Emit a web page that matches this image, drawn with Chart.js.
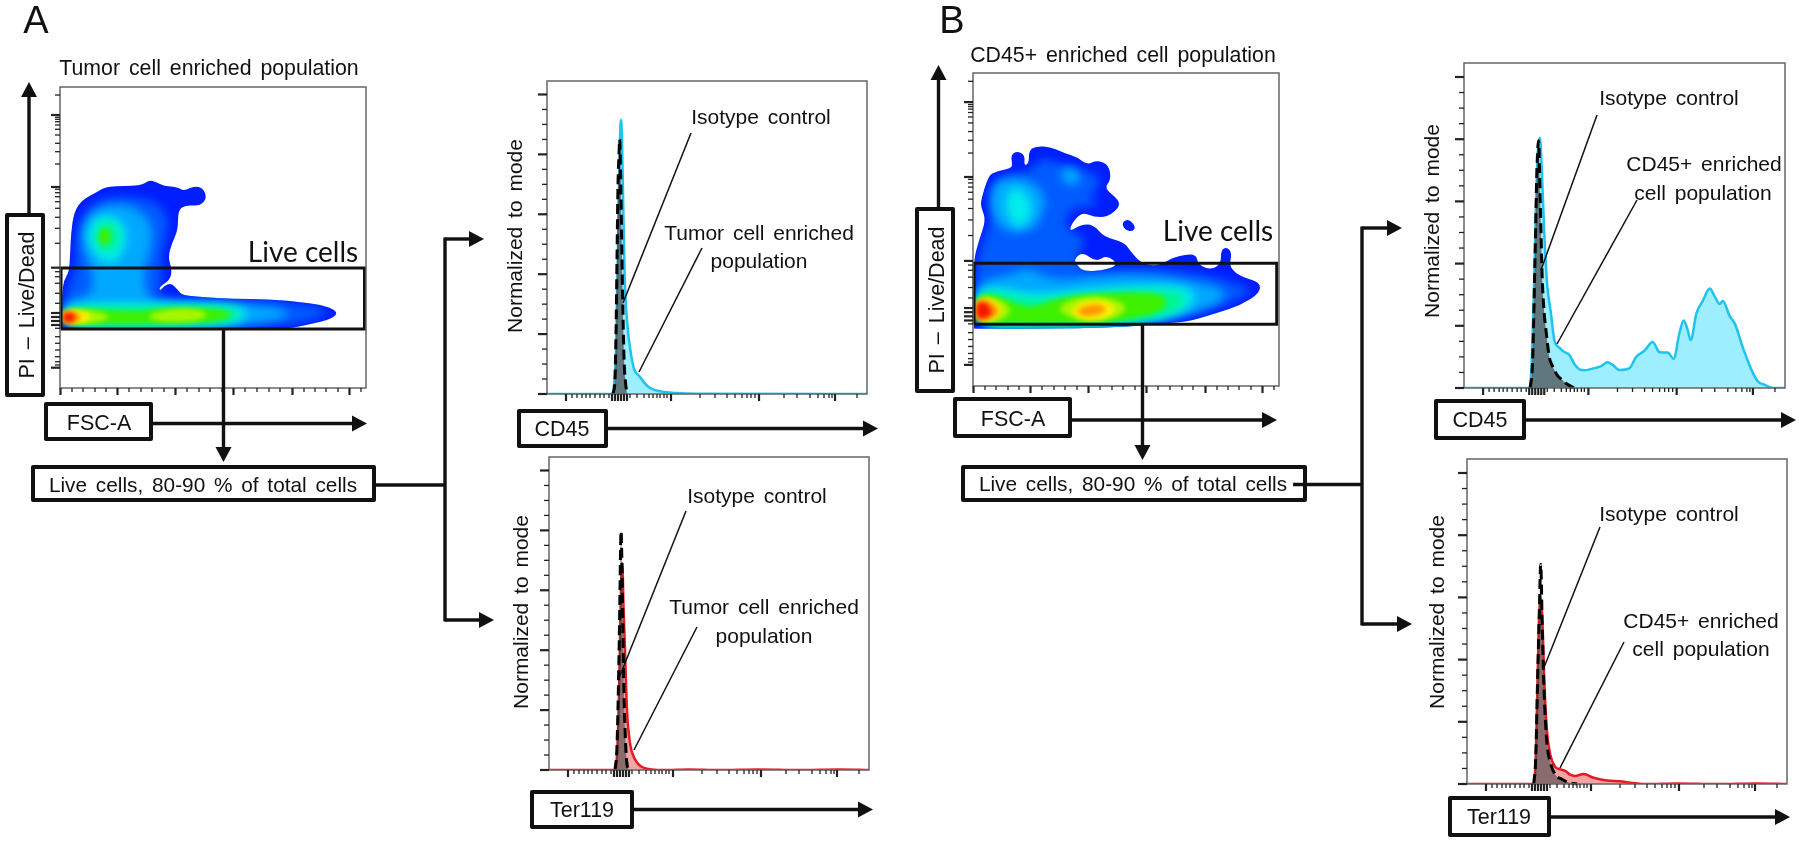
<!DOCTYPE html>
<html>
<head>
<meta charset="utf-8">
<title>Flow cytometry gating</title>
<script src="https://cdn.jsdelivr.net/npm/chart.js@4"></script>
<style>
  html, body { margin: 0; background: #fff; }
  #page { position: relative; width: 1800px; height: 843px; overflow: hidden; font-family: "Liberation Sans", Arial, sans-serif; color: #111; }
  canvas { position: absolute; }
  svg { position: absolute; left: 0; top: 0; z-index: 3; }
  .box { position: absolute; box-sizing: border-box; border: 4px solid #111; border-radius: 2px; background: #fff; z-index: 2; }
  .lbl { position: absolute; white-space: pre; transform-origin: center; z-index: 4; word-spacing: 3px; }
</style>
</head>
<body>
<div id="page"></div>
<script>
// density contours, FSC-A channel / PI channel, one list per colour level
const tumorLevel0 = [[[2,60],[2,95],[4,108],[9,116],[10,131],[11,155],[14,176],[22,188],[37,196],[47,202],[81,202],[89,208],[96,206],[104,202],[117,201],[124,197],[134,202],[143,200],[147,190],[140,182],[126,183],[118,178],[118,158],[112,145],[108,131],[112,118],[110,108],[99,101],[100,97],[104,102],[111,105],[118,98],[122,93],[141,91],[174,89],[207,89],[241,86],[267,82],[279,75],[269,68],[241,62],[226,59],[94,58],[2,58]]];
const tumorLevel1 = [[[4,61],[4,91],[16,116],[16,148],[21,171],[41,191],[81,191],[104,181],[109,161],[101,138],[102,108],[97,93],[111,88],[207,86],[257,82],[269,75],[257,69],[224,63],[107,60]]];
const tumorLevel2 = [[[4,61],[4,87],[34,93],[31,121],[20,148],[27,173],[47,184],[76,182],[94,161],[90,135],[84,121],[86,91],[101,85],[207,83],[229,77],[226,69],[174,62],[74,59]]];
const tumorLevel3 = [[[26,151],[34,172],[56,173],[69,155],[61,129],[49,123],[35,131]], [[3,61],[3,84],[74,85],[174,84],[192,75],[174,63],[74,60]]];
const tumorLevel4 = [[[34,151],[40,166],[53,166],[61,153],[53,136],[41,136]], [[3,63],[3,81],[91,81],[173,81],[181,73],[169,65],[81,62]]];
const tumorLevel5 = [[[38,153],[44,162],[52,155],[48,143],[41,143]], [[3,64],[3,79],[51,78],[77,76],[101,80],[157,80],[175,73],[157,66],[84,64],[51,64]]];
const tumorLevel6 = [[[3,65],[3,79],[33,78],[54,71],[33,64]], [[85,73],[114,80],[143,78],[149,72],[133,66],[97,66]]];
const tumorLevel7 = [[[3,64],[3,78],[23,77],[33,71],[23,65]]];
const tumorLevel8 = [[[3,65],[3,77],[16,76],[23,71],[15,65]]];
const tumorLevel9 = [[[3,66],[3,76],[13,75],[16,71],[12,65]]];

const cd45Level0 = [
  [[1,58],[0,123],[6,146],[13,166],[8,179],[8,186],[15,209],[21,214],[39,218],[39,223],[38,231],[44,235],[52,231],[51,220],[56,223],[56,236],[64,240],[78,239],[91,233],[104,229],[114,221],[124,226],[136,221],[138,206],[131,198],[146,186],[146,178],[134,169],[121,169],[109,174],[99,163],[96,154],[109,162],[121,161],[131,149],[151,144],[158,134],[168,123],[181,120],[191,123],[201,129],[223,133],[225,121],[239,116],[248,123],[248,136],[254,139],[259,133],[256,119],[268,109],[287,104],[287,93],[268,81],[244,73],[214,64],[191,63],[144,58],[1,57]],
  [[149,164],[156,167],[163,159],[159,154],[151,157]]
];
const cd45Level1 = [[[3,61],[3,123],[13,153],[21,173],[19,199],[28,209],[61,216],[68,229],[84,223],[104,216],[124,213],[128,201],[114,189],[128,183],[114,178],[98,179],[91,159],[104,153],[114,146],[101,126],[114,113],[161,119],[228,113],[274,99],[278,93],[244,78],[191,66],[61,59]]];
const cd45Level2 = [[[16,189],[24,208],[56,208],[74,189],[68,169],[61,156],[34,153],[19,169]], [[88,219],[104,218],[109,206],[98,199],[88,206]], [[3,60],[3,105],[38,111],[54,119],[81,105],[128,111],[178,111],[214,105],[248,99],[254,86],[214,71],[161,62],[61,60]]];
const cd45Level3 = [[[31,179],[36,198],[51,198],[61,176],[51,159],[41,159]], [[3,60],[3,96],[28,99],[61,91],[114,97],[181,102],[220,99],[223,81],[191,67],[128,60],[61,60]]];
const cd45Level4 = [[[3,61],[3,92],[24,94],[61,84],[101,92],[181,96],[210,93],[213,81],[186,69],[128,61],[61,60]]];
const cd45Level5 = [[[3,62],[3,91],[24,91],[44,81],[61,78],[81,87],[114,92],[181,94],[196,86],[186,72],[128,63],[61,63]]];
const cd45Level6 = [[[3,63],[3,89],[23,89],[41,76],[26,64]], [[82,76],[98,87],[128,91],[156,81],[146,68],[108,64]]];
const cd45Level7 = [[[3,65],[3,87],[20,87],[31,76],[20,65]], [[96,76],[114,86],[134,85],[145,76],[130,66],[108,66]]];
const cd45Level8 = [[[3,66],[3,86],[17,86],[28,75],[18,66]], [[102,76],[118,82],[130,81],[134,76],[123,70],[109,70]]];
const cd45Level9 = [[[3,67],[3,84],[13,84],[20,74],[13,67]]];
const cd45Holes = [[[101,127],[110,134],[123,124],[134,131],[146,121],[128,115],[110,115],[104,121]]];

const levelColors = ['#001eff', '#005cff', '#00a8ff', '#00ecec', '#00f58a', '#3cf000', '#aaf500', '#fff000', '#ff9600', '#f81400'];

// live cell gates, same channels
const tumorGate = [[1,59],[304.5,59],[304.5,120],[1,120],[1,59]];
const cd45Gate = [[1,61.7],[303.7,61.7],[303.7,122.7],[1,122.7],[1,61.7]];

// histogram curves, x = display channel, y = % of mode
const cd45TumorX = [0,65,67,69,71,73,74,75,76,77.7,80.7,84,87,92,97,103,113,130,150,320];
const cd45TumorY = [0,0,3,15,50,85,91.6,85,67,39,22,13.4,8.4,6.1,3.9,2,0.9,0.3,0.1,0];
const cd45IsoAX = [66,68,69,70,71,72,72.7,73.5,74.5,75.5,77,78.5,80];
const cd45IsoAY = [0,5,20,45,70,80,85,75,55,35,12,4,0];

const terTumorX = [0,66,68,70,72,73.3,74.5,76,78,81,84,88,93,103,115,140,170,210,250,290,320];
const terTumorY = [0,0,5,25,60,69,55,40,20,9,5,2.5,1,0.2,0,0.2,0,0.2,0,0.2,0];
const terIsoAX = [66,68,70,71,72,73,74,75,76,77,78,79.5];
const terIsoAY = [0,8,38,60,79.6,68,45,25,14,6,2,0];

const cd45EnrichedX = [0,65,67,70,72.7,75.7,77.3,80,83,86.7,90,95,100,105,110,115,120.7,130,136.7,143,148,155,165,171.7,180,188,195,203,209,215,219,222.7,226,231.7,238,245,250,255,258,265,270,278,287,293.3,300,308,320];
const cd45EnrichedY = [0,0,5,35,70,80.5,72,50,33,24,15.5,13,11.6,10.7,7.7,6,5.7,6.4,7,8.3,7.5,5.8,6.4,10,12,14.8,11.5,11.4,9.4,18,21.7,19,15.4,24,28,32,29.4,27,28,23,20.7,13,5.5,2,1,0,0];
const cd45IsoBX = [66,68.3,70.7,72.7,74.3,76,78,80,82.3,85,88.3,93.3,98.3,103,110];
const cd45IsoBY = [0,8,40,70,79.5,60,35,24,17,10,7,4,2.5,1.2,0];

const terEnrichedX = [0,66,68.3,70,71.7,73.7,75.7,77.3,80,83.3,88.3,93.3,98.3,103,108,116.7,126.7,140,153,163,180,210,250,290,320];
const terEnrichedY = [0,0,5,25,50,60,50,33,17,9.4,5.5,4.7,4.2,3,2.6,3.2,2,1.1,0.9,0.4,0,0.2,0,0.2,0];
const terIsoBX = [66.7,68.7,70.7,72.3,73.7,75.3,77.3,80,83.3,88.3,95,101.7,110];
const terIsoBY = [0,8,35,55,70.6,50,28,13,7,3,1.5,0.5,0];

// axis ticks
const histYMajor = [0,20,40,60,80,100];
const histYMinor = [5,10,15,25,30,35,45,50,55,65,70,75,85,90,95];
const histXMajor = [19,124,212,288,65,68,71,74,77,80];
const histXMinor = [25,30,35,39,43,48,53,57,62,83,90,97,102,106,110,113,117,120,153,168,180,188,195,200,204,208,237,250,263,271,277,282,285,310];
const fscXMajor = [0.5,57.5,115.5,173.5,232.5,289.5];
const fscXMinor = [12,23,35,46,69,81,92,104,127,139,150,162,185,197,209,220,244,255,266,278,301];
const piYMajor = [273,201,120.3,20.3,75,71,67,63];
const piYMinor = [293,270.7,268.7,266.3,263,258.7,253,244.7,236.3,224,198.7,195.3,191.3,186.3,179.7,170.7,159.7,144.7,116.3,111.3,104.7,94.7,84.7,59.7,51.3,44.7,38,31.3,26.3,23];

const padL = 12, padB = 12, padT = 2, padR = 2;
const page = document.getElementById('page');

function axisMarks(t) {
  return {
    id: 'axisMarks',
    afterDraw(chart) {
      const { ctx, chartArea: a, scales: { x, y } } = chart;
      ctx.save();
      ctx.strokeStyle = '#666';
      ctx.lineWidth = 1.5;
      ctx.strokeRect(a.left, a.top, a.right - a.left, a.bottom - a.top);
      ctx.strokeStyle = '#222';
      const tick = (vals, len, w, isX) => {
        ctx.lineWidth = w;
        vals.forEach(v => {
          ctx.beginPath();
          if (isX) {
            ctx.moveTo(x.getPixelForValue(v), a.bottom);
            ctx.lineTo(x.getPixelForValue(v), a.bottom + len);
          } else {
            ctx.moveTo(a.left, y.getPixelForValue(v));
            ctx.lineTo(a.left - len, y.getPixelForValue(v));
          }
          ctx.stroke();
        });
      };
      tick(t.xMinor, 4, 1.3, true);
      tick(t.xMajor, 7, 2.2, true);
      tick(t.yMinor, 5, 1.3, false);
      tick(t.yMajor, 9, 2.2, false);
      ctx.restore();
    }
  };
}

function makeCanvas(box) {
  const c = document.createElement('canvas');
  c.width = box.w + padL + padR;
  c.height = box.h + padT + padB;
  c.style.left = (box.x - padL) + 'px';
  c.style.top = (box.y - padT) + 'px';
  page.appendChild(c);
  return c;
}

function baseOptions(xMax, yMax) {
  return {
    responsive: false,
    animation: false,
    layout: { padding: { left: padL, right: padR, top: padT, bottom: padB } },
    plugins: { legend: { display: false }, tooltip: { enabled: false } },
    scales: {
      x: { type: 'linear', display: false, min: 0, max: xMax },
      y: { type: 'linear', display: false, min: 0, max: yMax }
    }
  };
}

const toPoints = (xs, ys) => xs.map((v, i) => ({ x: v, y: ys[i] }));

function makeHist(box, sample, iso, line, fillColor, isoFill) {
  new Chart(makeCanvas(box), {
    type: 'line',
    data: {
      datasets: [
        { data: toPoints(iso[0], iso[1]), borderColor: '#000', borderWidth: 3, borderDash: [10, 5], backgroundColor: isoFill, fill: 'origin', pointRadius: 0, cubicInterpolationMode: 'monotone', clip: false },
        { data: toPoints(sample[0], sample[1]), borderColor: line, borderWidth: 2.5, backgroundColor: fillColor, fill: 'origin', pointRadius: 0, cubicInterpolationMode: 'monotone' }
      ]
    },
    options: baseOptions(320, 104.5),
    plugins: [axisMarks({ xMajor: histXMajor, xMinor: histXMinor, yMajor: histYMajor, yMinor: histYMinor })]
  });
}

// smooth closed outline through the element positions of one contour dataset
function tracePath(ctx, pts) {
  const n = pts.length;
  const mid = (a, b) => ({ x: (a.x + b.x) / 2, y: (a.y + b.y) / 2 });
  const s = mid(pts[n - 1], pts[0]);
  ctx.moveTo(s.x, s.y);
  pts.forEach((p, i) => {
    const m = mid(p, pts[(i + 1) % n]);
    ctx.quadraticCurveTo(p.x, p.y, m.x, m.y);
  });
  ctx.closePath();
}

const densityFill = {
  id: 'densityFill',
  beforeDatasetsDraw(chart) {
    const ctx = chart.ctx;
    const contours = chart.data.datasets.map((d, i) => ({ d, pts: chart.getDatasetMeta(i).data })).filter(o => o.d.level !== undefined);
    const outer = contours.filter(o => o.d.level === 0);
    ctx.save();
    ctx.fillStyle = levelColors[0];
    ctx.beginPath();
    outer.forEach(o => tracePath(ctx, o.pts));
    ctx.fill();
    ctx.clip();
    contours.filter(o => o.d.level > 0).forEach(o => {
      ctx.filter = o.d.level < 5 ? 'blur(5px)' : 'blur(2.5px)';
      ctx.fillStyle = levelColors[o.d.level];
      ctx.beginPath();
      tracePath(ctx, o.pts);
      ctx.fill();
    });
    ctx.restore();
    ctx.save();
    ctx.fillStyle = '#fff';
    contours.filter(o => o.d.level === -1).forEach(o => {
      ctx.beginPath();
      tracePath(ctx, o.pts);
      ctx.fill();
    });
    ctx.restore();
  }
};

function makeDensity(box, levels, holes, gate) {
  const datasets = [];
  const add = (poly, level) => datasets.push({ level, data: poly.map(p => ({ x: p[0], y: p[1] })), showLine: false, pointRadius: 0 });
  levels.forEach((polys, l) => polys.forEach(p => add(p, l)));
  holes.forEach(p => add(p, -1));
  datasets.unshift({ data: gate.map(p => ({ x: p[0], y: p[1] })), showLine: true, borderColor: '#111', borderWidth: 3, pointRadius: 0, clip: false });
  const k = box.h / 301;
  new Chart(makeCanvas(box), {
    type: 'scatter',
    data: { datasets },
    options: baseOptions(box.w, box.h),
    plugins: [densityFill, axisMarks({ xMajor: fscXMajor, xMinor: fscXMinor, yMajor: piYMajor.map(v => v * k), yMinor: piYMinor.map(v => v * k) })]
  });
}

makeDensity({ x: 59.5, y: 87, w: 306, h: 301 },
  [tumorLevel0, tumorLevel1, tumorLevel2, tumorLevel3, tumorLevel4, tumorLevel5, tumorLevel6, tumorLevel7, tumorLevel8, tumorLevel9], [], tumorGate);
makeDensity({ x: 972.5, y: 73, w: 306, h: 313 },
  [cd45Level0, cd45Level1, cd45Level2, cd45Level3, cd45Level4, cd45Level5, cd45Level6, cd45Level7, cd45Level8, cd45Level9], cd45Holes, cd45Gate);

const cyanLine = '#1fc3ee', cyanFill = '#9deeff', redLine = '#e8191f', redFill = '#f2a5a5';
makeHist({ x: 547, y: 81, w: 320, h: 313 }, [cd45TumorX, cd45TumorY], [cd45IsoAX, cd45IsoAY], cyanLine, cyanFill, 'rgba(70,70,70,0.7)');
makeHist({ x: 548.5, y: 457, w: 320, h: 313 }, [terTumorX, terTumorY], [terIsoAX, terIsoAY], redLine, redFill, 'rgba(70,70,70,0.6)');
makeHist({ x: 1463.5, y: 63, w: 321.5, h: 325 }, [cd45EnrichedX, cd45EnrichedY], [cd45IsoBX, cd45IsoBY], cyanLine, cyanFill, 'rgba(70,70,70,0.7)');
makeHist({ x: 1467, y: 458.5, w: 320.5, h: 325.5 }, [terEnrichedX, terEnrichedY], [terIsoBX, terIsoBY], redLine, redFill, 'rgba(70,70,70,0.6)');

// flow diagram: framed axis labels, arrows, text
const boxes = [
  [5, 213, 40, 184], [44, 402, 109, 39], [31, 465, 345, 37],
  [915, 207, 40, 186], [953, 397, 119, 41], [961, 465, 346, 37],
  [517, 409, 91, 39], [530, 790, 104, 39], [1434, 399, 92, 41], [1448, 796, 103, 41]
];
boxes.forEach(b => {
  const d = document.createElement('div');
  d.className = 'box';
  d.style.cssText = `left:${b[0]}px;top:${b[1]}px;width:${b[2]}px;height:${b[3]}px`;
  page.appendChild(d);
});

const arrows = [
  [29, 213, 29, 82], [223.5, 329, 223.5, 462], [153, 423.5, 367, 423.5],
  [445, 239, 484, 239], [445, 620, 494, 620],
  [938.5, 207, 938.5, 65], [1142.5, 324, 1142.5, 460], [1072, 420, 1277, 420],
  [1362, 228, 1402, 228], [1362, 624, 1412, 624],
  [608, 428.5, 878, 428.5], [634, 809.5, 873, 809.5], [1526, 420, 1796, 420], [1551, 817, 1790, 817]
];
const connectors = [[376, 485, 445, 485], [445, 237.5, 445, 621.5], [1293, 484.5, 1362, 484.5], [1362, 226.5, 1362, 625.5]];
const leaders = [
  [691, 133, 623, 303], [702, 248, 639, 372], [686, 511, 619, 678], [697, 627, 634, 750],
  [1597, 115, 1541, 270], [1637, 200, 1557, 344], [1600, 527, 1543, 670], [1624, 642, 1560, 768]
];
let svg = '<svg width="1800" height="843" xmlns="http://www.w3.org/2000/svg">';
const seg = (s, w) => `<line x1="${s[0]}" y1="${s[1]}" x2="${s[2]}" y2="${s[3]}" stroke="#111" stroke-width="${w}"/>`;
arrows.forEach(a => {
  const len = Math.hypot(a[2] - a[0], a[3] - a[1]);
  const ux = (a[2] - a[0]) / len, uy = (a[3] - a[1]) / len;
  const bx = a[2] - ux * 15, by = a[3] - uy * 15;
  svg += seg([a[0], a[1], bx, by], 3.4);
  svg += `<polygon fill="#111" points="${a[2]},${a[3]} ${bx - uy * 8},${by + ux * 8} ${bx + uy * 8},${by - ux * 8}"/>`;
});
connectors.forEach(s => { svg += seg(s, 3.4); });
leaders.forEach(s => { svg += seg(s, 1.5); });
svg += '</svg>';
page.insertAdjacentHTML('beforeend', svg);

const labels = [
  ['A', 36, 20, 38, 0], ['B', 952, 20, 38, 0],
  ['Tumor cell enriched population', 209, 68, 21.3, 0],
  ['CD45+ enriched cell population', 1123, 55, 21.3, 0],
  ['PI \u2013 Live/Dead', 27, 305, 21.5, -90], ['PI \u2013 Live/Dead', 937, 300, 21.5, -90],
  ['FSC-A', 99, 423, 21.5, 0], ['FSC-A', 1013, 419, 21.5, 0],
  ['Live cells, 80-90 % of total cells', 203, 485, 20.8, 0],
  ['Live cells, 80-90 % of total cells', 1133, 484, 20.8, 0],
  ['Normalized to mode', 515, 236, 21, -90], ['Normalized to mode', 521, 612, 21, -90],
  ['Normalized to mode', 1432, 221, 21, -90], ['Normalized to mode', 1437, 612, 21, -90],
  ['CD45', 562, 429, 21.5, 0], ['Ter119', 582, 810, 21.5, 0],
  ['CD45', 1480, 420, 21.5, 0], ['Ter119', 1499, 817, 21.5, 0],
  ['Isotype control', 761, 117, 21, 0], ['Tumor cell enriched', 759, 233, 21, 0], ['population', 759, 261, 21, 0],
  ['Isotype control', 757, 496, 21, 0], ['Tumor cell enriched', 764, 607, 21, 0], ['population', 764, 636, 21, 0],
  ['Isotype control', 1669, 98, 21, 0], ['CD45+ enriched', 1704, 164, 21, 0], ['cell population', 1703, 193, 21, 0],
  ['Isotype control', 1669, 514, 21, 0], ['CD45+ enriched', 1701, 621, 21, 0], ['cell population', 1701, 649, 21, 0]
];
labels.forEach(l => {
  const d = document.createElement('div');
  d.className = 'lbl';
  d.textContent = l[0];
  d.style.cssText = `left:${l[1]}px;top:${l[2]}px;font-size:${l[3]}px;transform:translate(-50%,-50%) rotate(${l[4]}deg)`;
  page.appendChild(d);
});
[['Live cells', 303, 251], ['Live cells', 1218, 230]].forEach(l => {
  const d = document.createElement('div');
  d.className = 'lbl';
  d.textContent = l[0];
  d.style.cssText = `left:${l[1]}px;top:${l[2]}px;font-family:Lato,sans-serif;font-size:28px;word-spacing:0;transform:translate(-50%,-50%)`;
  page.appendChild(d);
});
</script>
</body>
</html>
